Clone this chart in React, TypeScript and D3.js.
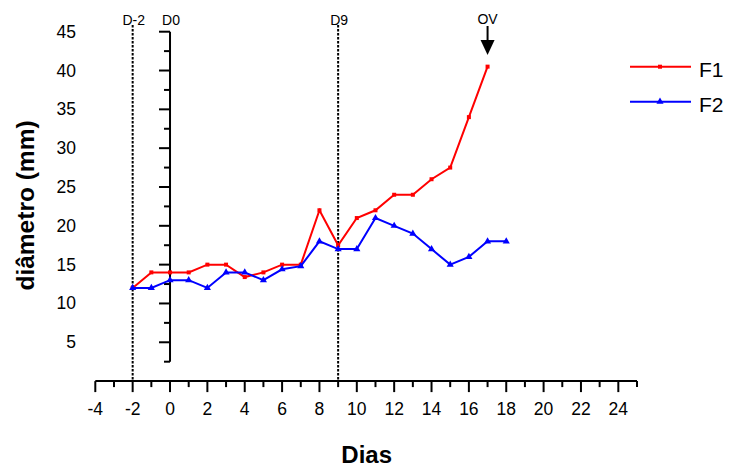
import React from "react";
import * as d3 from "d3";

const width = 731;
const height = 466;

// days on the x axis
const daysF1 = [-2, -1, 0, 1, 2, 3, 4, 5, 6, 7, 8, 9, 10, 11, 12, 13, 14, 15, 16, 17];
const valuesF1 = [12, 14, 14, 14, 15, 15, 13.4, 14, 15, 15, 22, 17.5, 21, 22, 24, 24, 26, 27.5, 34, 40.5];
const daysF2 = [-2, -1, 0, 1, 2, 3, 4, 5, 6, 7, 8, 9, 10, 11, 12, 13, 14, 15, 16, 17, 18];
const valuesF2 = [12, 12, 13, 13, 12, 14, 14, 13, 14.4, 14.8, 18, 17, 17, 21, 20, 19, 17, 15, 16, 18, 18];

const xMajorTicks = [-4, -2, 0, 2, 4, 6, 8, 10, 12, 14, 16, 18, 20, 22, 24];
const xMinorTicks = [-3, -1, 1, 3, 5, 7, 9, 11, 13, 15, 17, 19, 21, 23, 25];
const yMajorTicks = [5, 10, 15, 20, 25, 30, 35, 40, 45];
const yMinorTicks = [2.5, 7.5, 12.5, 17.5, 22.5, 27.5, 32.5, 37.5, 42.5];

const markers = [
  { day: -2, label: "D-2", dashed: true },
  { day: 0, label: "D0", dashed: false },
  { day: 9, label: "D9", dashed: true },
];
const ovDay = 17;

const font = "'Liberation Sans', Arial, sans-serif";

const x = d3.scaleLinear().domain([-4, 25]).range([95.3, 637]);
const y = d3.scaleLinear().domain([0, 45]).range([381.1, 31.7]);

export default function App() {
  const line = d3
    .line<[number, number]>()
    .x((d) => x(d[0]))
    .y((d) => y(d[1]));

  const f1: [number, number][] = daysF1.map((d, i) => [d, valuesF1[i]]);
  const f2: [number, number][] = daysF2.map((d, i) => [d, valuesF2[i]]);
  const tri = d3.symbol().type(d3.symbolTriangle).size(22)();

  const y0 = y(0);

  return (
    <svg width={width} height={height} style={{ position: "absolute", left: 0, top: 0 }} fontFamily={font}>
      {/* x axis */}
      <line x1={x(-4)} x2={x(25)} y1={y0} y2={y0} stroke="#000" strokeWidth={2} />
      {xMajorTicks.map((t) => (
        <g key={"xm" + t}>
          <line x1={x(t)} x2={x(t)} y1={y0} y2={y0 + 11} stroke="#000" strokeWidth={2} />
          <text x={x(t)} y={415} fontSize={17.5} textAnchor="middle">
            {t}
          </text>
        </g>
      ))}
      {xMinorTicks.map((t) => (
        <line key={"xn" + t} x1={x(t)} x2={x(t)} y1={y0} y2={y0 + 6} stroke="#000" strokeWidth={2} />
      ))}

      {/* y axis at day 0 */}
      <line x1={x(0)} x2={x(0)} y1={y(2.5)} y2={y(45)} stroke="#000" strokeWidth={2} />
      {yMajorTicks.map((t) => (
        <g key={"ym" + t}>
          <line x1={x(0) - 11} x2={x(0)} y1={y(t)} y2={y(t)} stroke="#000" strokeWidth={2} />
          <text x={76} y={y(t) + 6} fontSize={17.5} textAnchor="end">
            {t}
          </text>
        </g>
      ))}
      {yMinorTicks.map((t) => (
        <line key={"yn" + t} x1={x(0) - 6} x2={x(0)} y1={y(t)} y2={y(t)} stroke="#000" strokeWidth={2} />
      ))}

      {/* day markers */}
      {markers.map((m) => (
        <g key={m.label}>
          {m.dashed && (
            <line x1={x(m.day)} x2={x(m.day)} y1={25} y2={y0} stroke="#000" strokeWidth={2} strokeDasharray="2.5,1.5" />
          )}
          <text x={x(m.day) + 1} y={25} fontSize={14} textAnchor="middle">
            {m.label}
          </text>
        </g>
      ))}

      {/* OV arrow */}
      <text x={x(ovDay)} y={24} fontSize={14} textAnchor="middle">
        OV
      </text>
      <line x1={x(ovDay)} x2={x(ovDay)} y1={26} y2={42} stroke="#000" strokeWidth={2} />
      <path d={`M${x(ovDay) - 7},40 L${x(ovDay) + 7},40 L${x(ovDay)},55 Z`} fill="#000" />

      {/* series */}
      <path d={line(f1) || ""} fill="none" stroke="#ff0000" strokeWidth={2} />
      {f1.map((d, i) => (
        <rect key={"r" + i} x={x(d[0]) - 2} y={y(d[1]) - 2} width={4} height={4} fill="#ff0000" />
      ))}
      <path d={line(f2) || ""} fill="none" stroke="#0000ff" strokeWidth={2} />
      {f2.map((d, i) => (
        <path key={"b" + i} d={tri || ""} transform={`translate(${x(d[0])},${y(d[1])})`} fill="#0000ff" />
      ))}

      {/* legend */}
      <line x1={630} x2={691} y1={66.7} y2={66.7} stroke="#ff0000" strokeWidth={2} />
      <rect x={658} y={64.7} width={4} height={4} fill="#ff0000" />
      <text x={699} y={77} fontSize={21}>
        F1
      </text>
      <line x1={630} x2={691} y1={101.7} y2={101.7} stroke="#0000ff" strokeWidth={2} />
      <path d={tri || ""} transform="translate(660,101.7)" fill="#0000ff" />
      <text x={699} y={112} fontSize={21}>
        F2
      </text>

      {/* axis titles */}
      <text x={366.7} y={462.5} fontSize={24} fontWeight="bold" textAnchor="middle">
        Dias
      </text>
      <text
        transform="translate(34,205.5) rotate(-90)"
        fontSize={24.5}
        fontWeight="bold"
        textAnchor="middle"
      >
        diâmetro (mm)
      </text>
    </svg>
  );
}
